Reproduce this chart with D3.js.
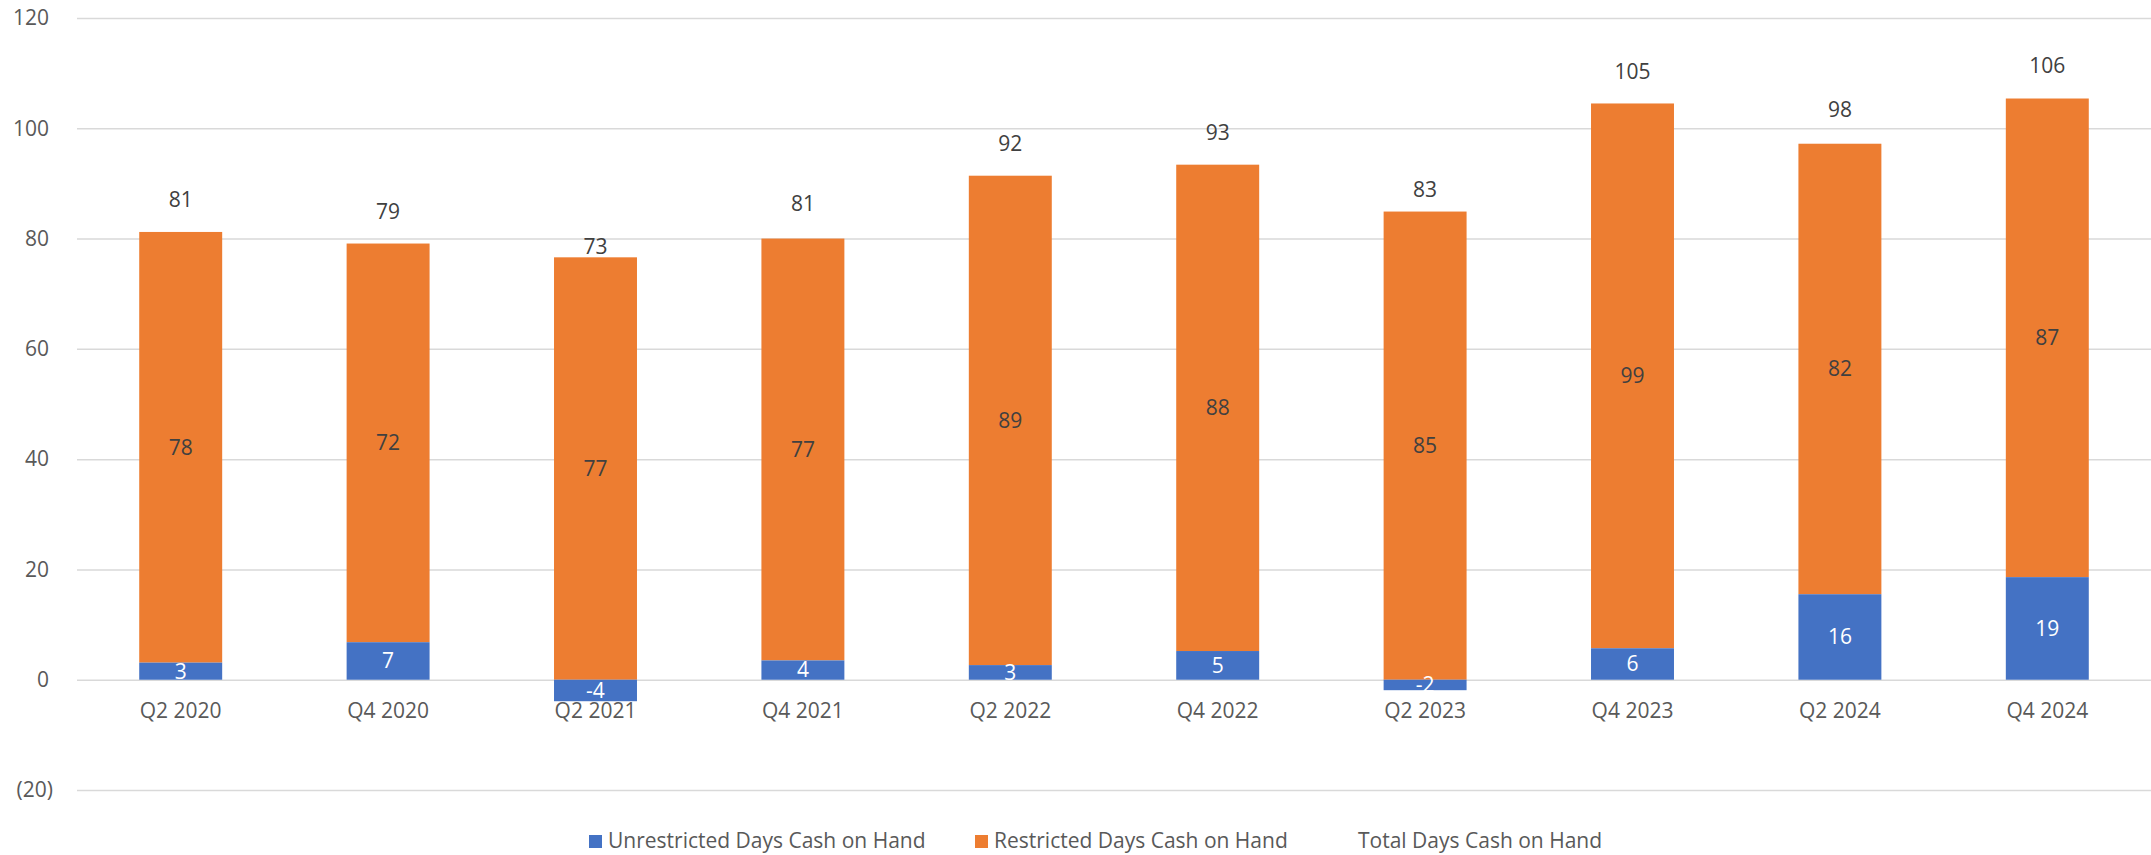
<!DOCTYPE html>
<html>
<head>
<meta charset="utf-8">
<script src="https://cdn.jsdelivr.net/npm/d3@7"></script>
<style>
  html, body { margin: 0; padding: 0; background: #fff; }
  svg { display: block; font-family: "Open Sans", "Noto Sans", sans-serif; }
</style>
</head>
<body>
<svg id="chart" width="2151" height="855"></svg>
<script>
const categories = ["Q2 2020","Q4 2020","Q2 2021","Q4 2021","Q2 2022","Q4 2022","Q2 2023","Q4 2023","Q2 2024","Q4 2024"];
const unrestricted = [3.1, 6.8, -3.9, 3.5, 2.65, 5.2, -1.9, 5.7, 15.5, 18.6];
const restricted   = [78.1, 72.3, 76.6, 76.5, 88.75, 88.2, 84.9, 98.8, 81.7, 86.8];
const total        = [81.2, 79.1, 72.7, 80.5, 91.5, 93.4, 83.0, 104.5, 97.5, 105.5];
const yTicks = [-20, 0, 20, 40, 60, 80, 100, 120];
const seriesNames = ["Unrestricted Days Cash on Hand", "Restricted Days Cash on Hand", "Total Days Cash on Hand"];
const seriesColors = ["#4472C4", "#ED7D31", "none"];

const svg = d3.select("#chart");
const plot = { left: 77, right: 2151, top: 18, bottom: 790 };

const x = d3.scaleBand().domain(categories).range([plot.left, plot.right])
  .paddingInner(0.6).paddingOuter(0.3);
const y = d3.scaleLinear().domain([-20, 120]).range([plot.bottom, plot.top]);

// gridlines
const grid = svg.append("g")
  .attr("transform", `translate(${plot.left},0)`)
  .call(d3.axisLeft(y).tickValues(yTicks).tickSize(-(plot.right - plot.left)).tickFormat(""));
grid.select(".domain").remove();
grid.selectAll("line").attr("stroke", "#D9D9D9").attr("stroke-width", 1.5);

// y tick labels
const fmt = v => v < 0 ? `(${Math.abs(v)})` : `${v}`;
svg.append("g").selectAll("text").data(yTicks).join("text")
  .attr("x", d => d < 0 ? 53 : 49)
  .attr("y", d => y(d))
  .attr("dy", "0.35em")
  .attr("text-anchor", "end")
  .attr("font-size", 21)
  .attr("fill", "#595959")
  .text(fmt);

// stacked bars
const rows = categories.map((c, i) => ({ c, u: unrestricted[i], r: restricted[i], t: total[i] }));
const bw = x.bandwidth();

// restricted: stacks on positive unrestricted, or from zero if unrestricted negative
const rBase = d => Math.max(0, d.u);
svg.append("g").selectAll("rect").data(rows).join("rect")
  .attr("x", d => x(d.c))
  .attr("width", bw)
  .attr("y", d => y(rBase(d) + d.r))
  .attr("height", d => y(rBase(d)) - y(rBase(d) + d.r))
  .attr("fill", seriesColors[1]);

svg.append("g").selectAll("rect").data(rows).join("rect")
  .attr("x", d => x(d.c))
  .attr("width", bw)
  .attr("y", d => y(Math.max(0, d.u)))
  .attr("height", d => Math.abs(y(0) - y(d.u)))
  .attr("fill", seriesColors[0]);

// category axis labels
svg.append("g").selectAll("text").data(categories).join("text")
  .attr("x", d => x(d) + bw / 2)
  .attr("y", y(0) + 31)
  .attr("dy", "0.35em")
  .attr("text-anchor", "middle")
  .attr("font-size", 21)
  .attr("fill", "#595959")
  .text(d => d);

// data labels: restricted (center)
svg.append("g").selectAll("text").data(rows).join("text")
  .attr("x", d => x(d.c) + bw / 2)
  .attr("y", d => y(rBase(d) + d.r / 2))
  .attr("dy", "0.35em")
  .attr("text-anchor", "middle")
  .attr("font-size", 21)
  .attr("fill", "#404040")
  .text(d => Math.round(d.r));

// data labels: unrestricted (center, white)
svg.append("g").selectAll("text").data(rows).join("text")
  .attr("x", d => x(d.c) + bw / 2)
  .attr("y", d => y(d.u / 2))
  .attr("dy", "0.35em")
  .attr("text-anchor", "middle")
  .attr("font-size", 21)
  .attr("fill", "#FFFFFF")
  .text(d => Math.round(d.u));

// total labels (invisible line series, label above)
svg.append("g").selectAll("text").data(rows).join("text")
  .attr("x", d => x(d.c) + bw / 2)
  .attr("y", d => y(d.t) - 32)
  .attr("dy", "0.35em")
  .attr("text-anchor", "middle")
  .attr("font-size", 21)
  .attr("fill", "#404040")
  .text(d => Math.round(d.t));

// legend
const legendY = 841;
const legendItems = [
  { name: seriesNames[0], color: seriesColors[0], sx: 589, tx: 608 },
  { name: seriesNames[1], color: seriesColors[1], sx: 975, tx: 994 },
  { name: seriesNames[2], color: seriesColors[2], sx: 1339, tx: 1358 }
];
const lg = svg.append("g");
legendItems.forEach(it => {
  if (it.color !== "none") {
    lg.append("rect").attr("x", it.sx).attr("y", legendY - 6).attr("width", 13).attr("height", 13).attr("fill", it.color);
  }
  lg.append("text").attr("x", it.tx).attr("y", legendY).attr("dy", "0.35em")
    .attr("font-size", 21).attr("fill", "#595959").text(it.name);
});
</script>
</body>
</html>
